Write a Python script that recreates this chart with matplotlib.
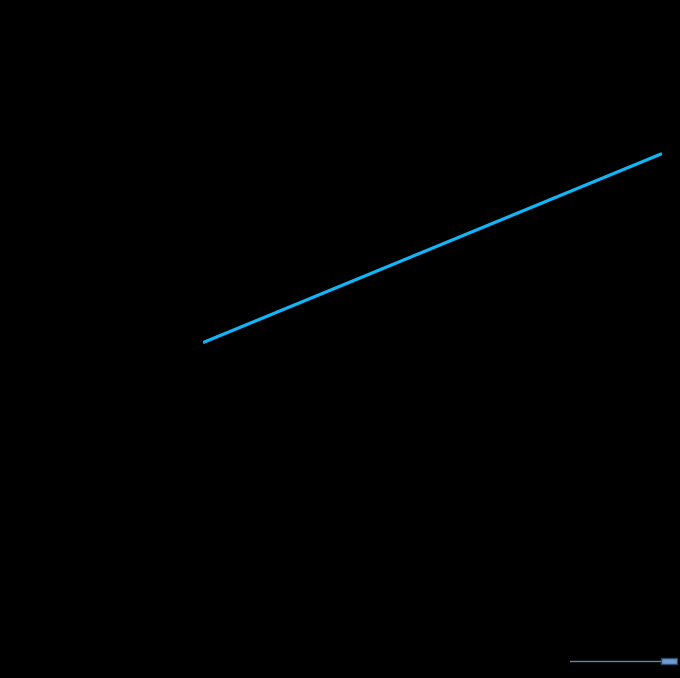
import matplotlib
matplotlib.use('Agg')
import matplotlib.pyplot as plt
from matplotlib.patches import Rectangle

# series data (axis labels/text are black on black in the reference)
categories = ['Start', 'End']
values = [143, 248]

# zoom slider state (percent)
zoom_track = [0, 83]
zoom_handle = [84, 100]

W, H = 680, 678
fig = plt.figure(figsize=(W / 100, H / 100), dpi=100, facecolor='black')

ax = fig.add_axes([203 / W, (H - 600) / H, 459 / W, 540 / H])
ax.set_facecolor('black')
ax.plot(range(len(categories)), values, color='#12b5f7', linewidth=2.3, solid_capstyle='butt')
ax.set_xlim(0, len(categories) - 1)
ax.set_ylim(0, 300)
ax.set_xticks(range(len(categories)))
ax.set_xticklabels(categories, color='black')
ax.tick_params(colors='black')
for s in ax.spines.values():
    s.set_visible(False)

# bottom dataZoom slider
sl = fig.add_axes([570 / W, (H - 667) / H, 108 / W, 12 / H])
sl.set_facecolor('black')
sl.set_xlim(0, 100)
sl.set_ylim(0, 1)
sl.plot(zoom_track, [0.5, 0.5], color='#4a93a8', linewidth=1.0)
sl.add_patch(Rectangle((zoom_handle[0], 0.25), zoom_handle[1] - zoom_handle[0] - 1, 0.5,
                       facecolor='#6f9ccc', edgecolor='#2c4a6e', linewidth=1.0))
sl.axis('off')

fig.savefig('out.png', dpi=100, facecolor='black')
